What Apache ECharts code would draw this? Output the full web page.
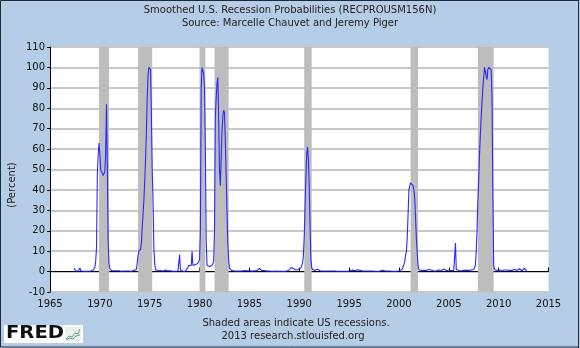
<!DOCTYPE html>
<html>
<head>
<meta charset="utf-8">
<script src="https://cdn.jsdelivr.net/npm/echarts@6/dist/echarts.min.js"></script>
<style>
html,body{margin:0;padding:0;background:#b5cde6;}
#chart{width:580px;height:348px;}
</style>
</head>
<body>
<div id="chart"></div>
<script>
// Monthly smoothed recession probabilities (percent), series starts June 1967
const seriesStartYear = 1967;
const seriesStartMonth = 6;
const probs1967to1969 = [
  1.8, 1.0, 0.3, 0.3, 0.6, 0.3, 0.4,
  1.8, 0.4, 0.2, 0.2, 0.2, 0.2, 0.2, 0.2, 0.2, 0.2, 0.2, 0.3,
  0.3, 0.3, 0.4, 0.5, 0.8, 1.0, 2, 5, 12, 48, 57, 63
];
const probs1970s = [
  58, 50, 49, 48, 47, 47.5, 49, 58, 82, 50, 15, 4,
  1.5, 0.8, 0.5, 1.2, 0.6, 0.4, 0.3, 0.5, 0.4, 0.3, 0.5, 0.4,
  0.3, 0.3, 0.2, 0.3, 0.4, 0.3, 0.2, 0.2, 0.3, 0.2, 0.2, 0.3,
  0.3, 0.2, 0.2, 0.3, 0.5, 0.6, 0.8, 0.8, 1.0, 1.5, 8, 10,
  10, 11, 14, 22, 28, 35, 44, 55, 68, 85, 96, 100,
  100, 99, 78, 50, 35, 12, 4, 1, 0.6, 0.5, 0.4, 0.4,
  0.6, 0.5, 0.4, 0.3, 0.3, 0.4, 0.6, 0.8, 1.0, 0.6, 0.4, 0.3,
  0.3, 0.4, 0.3, 0.2, 0.2, 0.2, 0.2, 0.2, 0.3, 0.4, 0.3, 0.5,
  8.3, 0.8, 0.3, 0.2, 0.2, 0.2, 0.2, 0.2, 0.3, 0.5, 2, 3,
  2.5, 3, 3, 10, 3, 2.5, 3, 3.5, 3, 3, 4, 5
];
const probs1980s = [
  6, 20, 90, 100, 100, 97, 90, 60, 15, 3, 2.5, 2.5,
  2.5, 3, 3.4, 3, 3, 5, 20, 76, 85, 92, 95, 75,
  50, 42, 55, 68, 76, 79, 78, 64, 48, 30, 14, 6,
  1.5, 0.8, 0.6, 0.5, 0.4, 0.4, 0.3, 0.3, 0.3, 0.3, 0.3, 0.3,
  0.3, 0.3, 0.3, 0.3, 0.3, 0.4, 0.5, 0.6, 0.5, 0.4, 0.4, 0.3,
  0.4, 0.5, 0.4, 0.3, 0.4, 0.5, 0.4, 0.3, 0.3, 0.4, 0.5, 0.8,
  1.5, 1.0, 0.6, 0.5, 0.4, 0.4, 0.5, 0.4, 0.3, 0.3, 0.3, 0.3,
  0.3, 0.2, 0.2, 0.2, 0.2, 0.2, 0.2, 0.2, 0.2, 0.3, 0.3, 0.2,
  0.2, 0.2, 0.2, 0.2, 0.2, 0.2, 0.2, 0.2, 0.3, 0.3, 0.4, 0.5,
  0.8, 1.2, 2.0, 2.5, 2.5, 1.5, 0.8, 0.6, 0.8, 1.0, 0.8, 1.0
];
const probs1990s = [
  1.2, 1.5, 1.8, 2.5, 4, 8, 17, 32, 46, 58, 61, 55,
  42, 23, 6, 2, 1, 0.8, 0.6, 0.6, 0.7, 0.9, 1.2, 0.8,
  0.5, 0.4, 0.3, 0.3, 0.3, 0.4, 0.4, 0.3, 0.3, 0.3, 0.3, 0.2,
  0.3, 0.3, 0.4, 0.3, 0.3, 0.3, 0.3, 0.3, 0.2, 0.2, 0.2, 0.2,
  0.2, 0.2, 0.2, 0.2, 0.2, 0.2, 0.2, 0.2, 0.2, 0.2, 0.2, 0.2,
  0.3, 0.4, 0.5, 0.6, 0.7, 0.6, 0.5, 0.4, 0.4, 0.6, 0.9, 1.0,
  1.0, 0.6, 0.4, 0.3, 0.3, 0.3, 0.4, 0.3, 0.3, 0.3, 0.3, 0.3,
  0.3, 0.3, 0.3, 0.3, 0.3, 0.3, 0.2, 0.2, 0.2, 0.2, 0.2, 0.2,
  0.2, 0.3, 0.3, 0.4, 0.6, 0.9, 0.7, 0.4, 0.3, 0.3, 0.3, 0.3,
  0.3, 0.3, 0.2, 0.2, 0.2, 0.2, 0.2, 0.2, 0.3, 0.2, 0.2, 0.3
];
const probs2000s = [
  0.3, 0.4, 0.5, 0.7, 1.2, 2.5, 3.5, 5, 8, 10, 17, 28,
  40, 42, 43.5, 43.8, 43.5, 42, 40, 36, 26, 16, 9, 3,
  1, 0.6, 0.5, 0.5, 0.4, 0.5, 0.6, 0.7, 0.8, 0.6, 0.5, 0.6,
  1.0, 1.5, 1.2, 0.8, 0.5, 0.4, 0.3, 0.3, 0.3, 0.4, 0.5, 0.6,
  0.8, 0.6, 0.5, 0.5, 0.6, 1.0, 1.3, 1.0, 0.6, 0.5, 0.6, 0.8,
  0.5, 0.4, 0.4, 0.5, 0.6, 0.8, 0.6, 0.6, 14, 1.0, 0.5, 0.4,
  0.5, 0.7, 0.6, 0.4, 0.4, 0.5, 0.6, 0.8, 1.0, 0.7, 0.5, 0.5,
  0.6, 1.2, 1.5, 0.8, 0.6, 0.8, 1.0, 2, 3, 10, 20, 35,
  45, 58, 67, 76, 83, 90, 95, 100, 100, 96, 94, 99,
  100, 100, 100, 99, 85, 40, 3, 1, 0.8, 0.6, 0.5, 0.6
];
const probs2010s = [
  0.6, 0.8, 1.2, 0.8, 0.5, 0.5, 0.6, 0.8, 1.0, 1.2, 0.8, 0.6,
  0.5, 0.6, 1.0, 0.8, 0.6, 0.8, 1.2, 1.0, 0.8, 0.6, 0.5, 0.6,
  1.0, 1.4, 0.8, 0.5, 0.4, 0.6, 0.8, 1.5, 2.3, 1.5, 0.5
];
// NBER recessions [first month, last month]
const recessions = [
  ['1969-12', '1970-11'],
  ['1973-11', '1975-03'],
  ['1980-01', '1980-07'],
  ['1981-07', '1982-11'],
  ['1990-07', '1991-03'],
  ['2001-03', '2001-11'],
  ['2007-12', '2009-06']
];
const xMin = 1965, xMax = 2015, xStep = 5;
const yMin = -10, yMax = 110, yStep = 10;

const allProbs = [].concat(probs1967to1969, probs1970s, probs1980s, probs1990s, probs2000s, probs2010s);
const lineData = allProbs.map((v, i) => [seriesStartYear + (seriesStartMonth - 1 + i) / 12, v]);
function monthStart(s) { const p = s.split('-'); return +p[0] + (+p[1] - 1) / 12; }
function monthEnd(s) { const p = s.split('-'); return +p[0] + (+p[1]) / 12; }
const areas = recessions.map(r => [{ xAxis: monthStart(r[0]) }, { xAxis: monthEnd(r[1]) }]);

const FONT = 'DejaVu Sans';
const chart = echarts.init(document.getElementById('chart'), null, { renderer: 'canvas' });
chart.setOption({
  animation: false,
  backgroundColor: '#b5cde6',
  grid: { left: 50, top: 47, width: 498.5, height: 245, containLabel: false, show: true, backgroundColor: '#ffffff', borderWidth: 0 },
  xAxis: {
    type: 'value', min: xMin, max: xMax, interval: xStep,
    axisLine: { show: true, lineStyle: { color: '#000', width: 1 } },
    axisTick: { show: true, inside: true, length: 4, lineStyle: { color: '#000' } },
    axisLabel: { color: '#111', fontFamily: FONT, fontSize: 10, margin: 7, formatter: v => String(v) },
    splitLine: { show: false }
  },
  yAxis: {
    type: 'value', min: yMin, max: yMax, interval: yStep,
    axisLine: { show: true, lineStyle: { color: '#000', width: 1 } },
    axisTick: { show: true, inside: false, length: 3, lineStyle: { color: '#000' } },
    axisLabel: { color: '#111', fontFamily: FONT, fontSize: 10, margin: 5 },
    splitLine: { show: true, lineStyle: { color: '#c8c8c8', width: 2 } }
  },
  series: [
    {
      type: 'line',
      data: [],
      z: 1,
      markArea: { silent: true, itemStyle: { color: '#bdbdbd', opacity: 1 }, data: areas }
    },
    {
      type: 'line',
      data: lineData,
      showSymbol: false,
      symbol: 'none',
      lineStyle: { color: '#2828ff', width: 1.1 },
      z: 5
    }
  ],
  graphic: [
    { type: 'text', left: 'center', top: 5, style: { text: 'Smoothed U.S. Recession Probabilities (RECPROUSM156N)', fill: '#222', font: '10px "DejaVu Sans"' } },
    { type: 'text', left: 'center', top: 18, style: { text: 'Source: Marcelle Chauvet and Jeremy Piger', fill: '#222', font: '10px "DejaVu Sans"' } },
    { type: 'text', x: 12, y: 185, rotation: Math.PI / 2, style: { text: '(Percent)', fill: '#222', font: '10px "DejaVu Sans"', align: 'center', verticalAlign: 'middle' } },
    { type: 'text', x: 296, y: 323, style: { text: 'Shaded areas indicate US recessions.', fill: '#222', font: '10px "DejaVu Sans"', align: 'center', verticalAlign: 'middle' } },
    { type: 'text', x: 293, y: 336, style: { text: '2013 research.stlouisfed.org', fill: '#222', font: '10px "DejaVu Sans"', align: 'center', verticalAlign: 'middle' } },
    { type: 'rect', shape: { x: 4, y: 325, width: 79, height: 18 }, style: { fill: '#ffffff' } },
    { type: 'text', x: 6, y: 334, scaleX: 1.15, style: { text: 'FRED', fill: '#111', font: '900 17px "DejaVu Sans"', verticalAlign: 'middle' } },
    { type: 'rect', shape: { x: 65, y: 327, width: 16, height: 14 }, style: { fill: '#eef0ee' } },
    { type: 'polyline', shape: { points: [[66, 339], [69, 336], [72, 337], [75, 333], [78, 334], [80, 329]] }, style: { stroke: '#6aa84f', lineWidth: 1, fill: null } },
    { type: 'polyline', shape: { points: [[66, 340], [70, 338], [73, 339], [76, 336], [80, 335]] }, style: { stroke: '#5b8fd0', lineWidth: 1, fill: null } },
    { type: 'rect', shape: { x: 0.5, y: 0.5, width: 578, height: 346.5 }, style: { fill: null, stroke: '#1e2a38', lineWidth: 1 } },
    { type: 'line', shape: { x1: 578.5, y1: 0, x2: 578.5, y2: 348 }, style: { stroke: '#1e2a38', lineWidth: 1 } }
  ]
});
</script>
</body>
</html>
